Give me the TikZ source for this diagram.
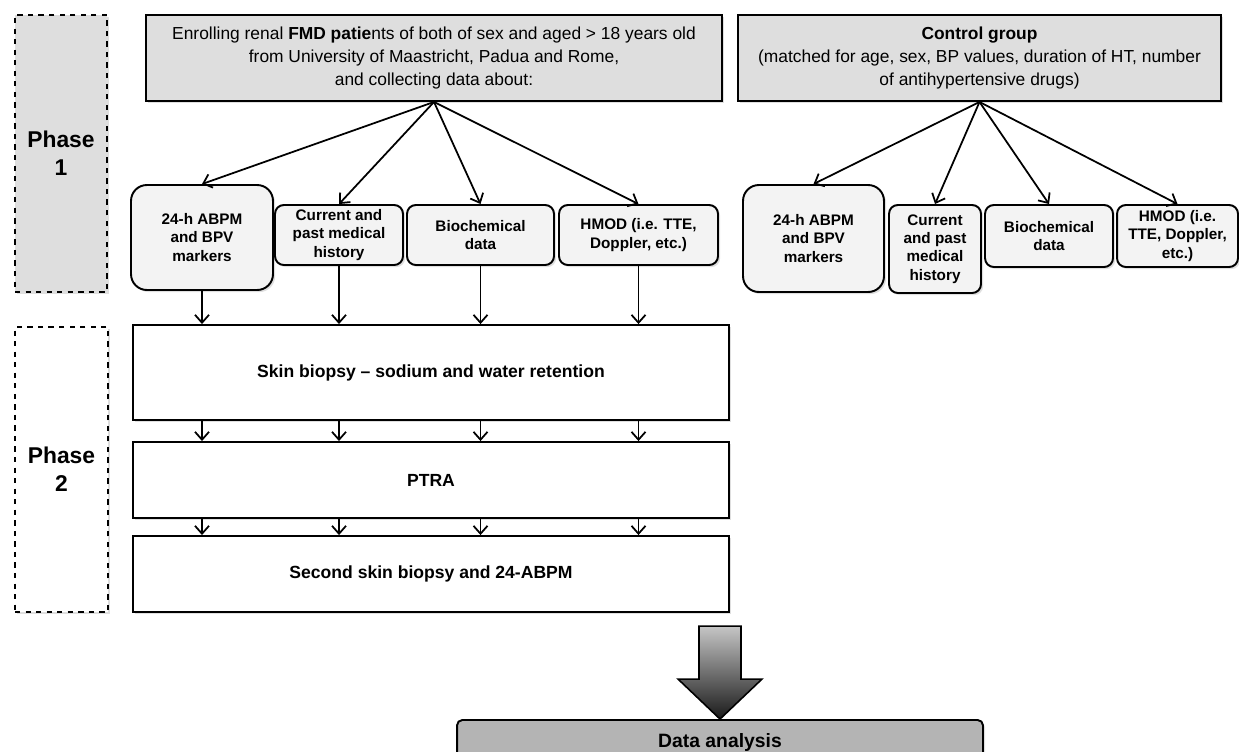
\documentclass[tikz,border=0pt]{standalone}
\usepackage{fontspec}
\setmainfont{Liberation Sans}
\usepackage{xcolor}
\usepackage{tikz}
\usetikzlibrary{arrows.meta, shadows, calc}

\definecolor{topgray}{HTML}{DEDEDE}
\definecolor{subgray}{HTML}{F3F3F3}
\definecolor{datagray}{HTML}{B4B4B4}

\tikzset{
    boxshadow/.style={drop shadow={opacity=0.25, shadow xshift=1.2pt, shadow yshift=-1.2pt}},
    phasebox/.style={draw, dashed, line width=0.9pt, font=\fontsize{13}{16}\selectfont\bfseries, align=center, inner sep=0pt, boxshadow},
    topbox/.style={draw, line width=1.1pt, fill=topgray, font=\fontsize{9.9}{13.2}\selectfont, align=center, inner sep=0pt, boxshadow},
    subbox/.style={draw, line width=1.1pt, fill=subgray, rounded corners=5pt, font=\fontsize{8.7}{10.4}\selectfont\bfseries, align=center, inner sep=0pt, boxshadow},
    stepbox/.style={draw, line width=1.1pt, fill=white, minimum width=11.92cm, font=\fontsize{10}{12}\selectfont\bfseries, align=center, inner sep=0pt, boxshadow},
    link/.style={line width=1pt, -{Straight Barb[length=4.5pt,width=8pt]}}
}

\begin{document}
\begin{tikzpicture}[x=0.02cm, y=-0.02cm]
    \clip (0,0) rectangle (1239,751);
    \fill[white] (0,0) rectangle (1239,751);

    % Phases
    \node[phasebox, fill=topgray, minimum width=1.84cm, minimum height=5.54cm] (phase1) at (61,153.5) {Phase\\1};
    \node[phasebox, fill=white, minimum width=1.86cm, minimum height=5.7cm] (phase2) at (61.5,469.5) {Phase\\2};

    % Patients and controls
    \node[topbox, minimum width=11.52cm, minimum height=1.72cm] (enrol) at (434,58)
        {Enrolling renal \textbf{FMD patie}nts of both of sex and aged > 18 years old\\
         from University of Maastricht, Padua and Rome,\\
         and collecting data about:};
    \node[topbox, minimum width=9.66cm, minimum height=1.72cm] (ctrl) at (979.5,58)
        {\textbf{Control group}\\
         (matched for age, sex, BP values, duration of HT, number\\
         of antihypertensive drugs)};

    % Data collected for patients
    \node[subbox, rounded corners=9pt, minimum width=2.84cm, minimum height=2.1cm] (abpm) at (202,237.5) {24-h ABPM\\and BPV\\markers};
    \node[subbox, minimum width=2.56cm, minimum height=1.2cm] (hist) at (339,235) {Current and\\past medical\\history};
    \node[subbox, minimum width=2.94cm, minimum height=1.2cm] (bio) at (480.5,235) {Biochemical\\data};
    \node[subbox, minimum width=3.18cm, minimum height=1.2cm] (hmod) at (638.5,235) {HMOD (i.e. TTE,\\Doppler, etc.)};

    % Data collected for controls
    \node[subbox, rounded corners=9pt, minimum width=2.82cm, minimum height=2.14cm] (cabpm) at (813.5,238.5) {24-h ABPM\\and BPV\\markers};
    \node[subbox, minimum width=1.84cm, minimum height=1.76cm] (chist) at (935,249) {Current\\and past\\medical\\history};
    \node[subbox, minimum width=2.56cm, minimum height=1.24cm] (cbio) at (1049,236) {Biochemical\\data};
    \node[subbox, minimum width=2.42cm, minimum height=1.24cm] (chmod) at (1177.5,236) {HMOD (i.e.\\TTE, Doppler,\\etc.)};

    % Phase 2 steps
    \node[stepbox, minimum height=1.9cm] (skin) at (431,372.5) {Skin biopsy -- sodium and water retention};
    \node[stepbox, minimum height=1.52cm] (ptra) at (431,480) {PTRA};
    \node[stepbox, minimum height=1.52cm] (second) at (431,574) {Second skin biopsy and 24-ABPM};

    % Final analysis
    \node[draw, line width=1.1pt, fill=datagray, rounded corners=3pt, minimum width=10.52cm, minimum height=0.88cm,
          font=\fontsize{11}{13}\selectfont\bfseries, boxshadow] (data) at (720,742) {Data analysis};

    % Connectors
    \foreach \b in {abpm, hist, bio, hmod} {
        \draw[link] (enrol.south) -- (\b.north);
        \draw[link] (\b.south) -- (\b |- skin.north);
        \draw[link] (\b |- skin.south) -- (\b |- ptra.north);
        \draw[link] (\b |- ptra.south) -- (\b |- second.north);
    }
    \foreach \b in {cabpm, chist, cbio, chmod}
        \draw[link] (ctrl.south) -- (\b.north);

    % Big arrow down to the analysis
    \shade[top color=gray!45, bottom color=black!90, draw=black, line width=0.9pt]
        ($(data.north)+(-21,-93)$) -- ++(42,0) -- ++(0,53) -- ++(21,0) -- (data.north)
        -- ($(data.north)+(-42,-40)$) -- ++(21,0) -- cycle;
\end{tikzpicture}
\end{document}
